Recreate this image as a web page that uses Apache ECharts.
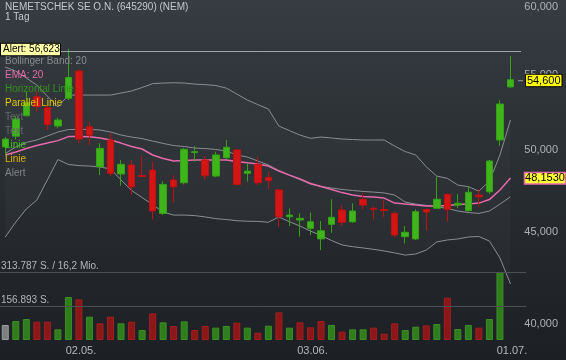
<!DOCTYPE html>
<html><head><meta charset="utf-8">
<script src="https://cdn.jsdelivr.net/npm/echarts@6/dist/echarts.min.js"></script>
<style>html,body{margin:0;padding:0;background:#2a2e33}#c{width:566px;height:360px}</style>
</head><body><div id="c"></div>
<script>
// ---- data ----
const dates = ['22.04.','23.04.','24.04.','25.04.','26.04.','29.04.','30.04.','02.05.','03.05.','06.05.','07.05.','08.05.','09.05.','10.05.','13.05.','14.05.','15.05.','16.05.','17.05.','20.05.','21.05.','22.05.','23.05.','24.05.','27.05.','28.05.','29.05.','30.05.','31.05.','03.06.','04.06.','05.06.','06.06.','07.06.','10.06.','11.06.','12.06.','13.06.','14.06.','17.06.','18.06.','19.06.','20.06.','21.06.','24.06.','25.06.','26.06.','27.06.','28.06.','01.07.'];
const openP  = [50100,50800,52140,53420,52680,51460,53320,55210,51410,48850,50550,48400,48960,48300,48640,46020,48030,47860,49740,49270,48270,49420,49910,48440,49000,48190,47420,45820,45630,45150,44540,45380,46220,45530,46860,46320,46250,46020,44670,44540,46250,46320,47150,46510,46180,47110,47310,50550,54100];
const closeP = [50610,51940,53020,52750,51570,51860,54760,50610,50860,50010,48440,49000,47610,48240,46160,47760,47610,49950,49800,48290,49590,50080,47760,48580,47860,47990,45820,45920,45730,45530,45010,45790,45500,46160,46510,46260,46190,44760,44920,46120,46100,46860,46260,46620,47280,47010,49210,52930,54600];
const lowP   = [49590,50590,52100,52410,51200,51310,53200,50340,50220,48330,48260,47680,47110,48210,45670,45930,46650,47760,49160,48030,48190,49310,47680,47930,47720,47480,45240,45280,44670,44760,43910,44890,45300,45470,46260,45670,45820,44630,44290,44480,45010,46280,45530,46320,46120,46420,47170,50180,54040];
const highP  = [50740,52120,53770,53770,52860,52010,56800,55330,51740,50340,50980,49270,49270,49520,49160,47960,48330,50030,50160,49520,49800,50550,49970,49060,49480,48540,47480,46320,46020,46070,45570,46860,46510,46620,47220,46420,46810,46120,45280,46260,46320,48230,47220,47170,47660,47460,49270,53200,56280];
const volume = [69200,87700,96900,84600,84600,49200,198400,187600,107700,77000,107700,77000,84600,46000,123000,81500,64600,86000,46000,64600,56900,64600,80000,56900,33800,66000,127600,56900,81500,58500,87700,69200,38400,49200,49200,56900,29000,77000,46000,61500,67700,73800,195000,50800,69200,56900,96900,313787,0];
const bbUpper  = [55490,55210,54720,54230,53470,52730,53540,53540,53540,53540,53540,53680,53820,54060,54330,54370,54390,54370,54300,54260,54200,54020,53610,53200,52890,52590,51460,51160,50870,50660,50740,50680,50610,50580,50550,50550,50550,50160,49810,49590,48850,48270,48130,47720,47620,47350,47960,49590,51860];
const bbMiddle = [49690,50100,50390,50550,50810,51070,51230,51240,51240,51200,51070,50870,50740,50640,50480,50330,50190,50130,50030,50000,49940,49840,49590,49460,49210,48960,48610,48330,48060,47780,47630,47540,47450,47390,47330,47290,47240,47110,46690,46570,46490,46410,46310,46160,46070,46020,46160,46570,47010];
const bbLower  = [44650,45510,46280,46810,48030,49300,48990,48920,48890,48830,48710,48030,47390,46960,46540,46100,45920,45920,45890,45810,45710,45660,45590,45560,45550,45500,45810,45530,45280,44990,44740,44450,44200,44100,44030,43950,43860,43750,43630,43690,43910,44370,44480,44540,44650,44680,44420,43470,42050];
const ema20    = [49590,49780,50000,50200,50350,50510,50770,50770,50760,50680,50550,50350,50130,49970,49590,49370,49210,49240,49270,49270,49270,49270,49180,49100,49020,48890,48580,48330,48090,47810,47630,47450,47260,47110,47020,46990,46930,46630,46570,46510,46460,46460,46490,46540,46570,46630,46840,47420,48153];
const priceTicks = [60000,55000,50000,45000,40000];
const priceTickLabels = ['60,000','55,000','50,000','45,000','40,000'];
const alertValue = 56623, alertText = 'Alert: 56,623';
const lastPriceText = '54,600', emaText = '48,1530';
const volTicks = [313787,156893];
const volTickLabels = ['313.787 S. / 16,2 Mio.','156.893 S.'];
const titleText = 'NEMETSCHEK SE O.N. (645290) (NEM)', periodText = '1 Tag';
const legendTexts  = ['Bollinger Band: 20','EMA: 20','Horizontal Linie','Parallel Linie','Text','Text','Linie','Linie','Alert'];
const legendColors = ['#878b8f','#e46aa8','#32921a','#e3c300','#63676b','#63676b','#3ec41e','#dcb400','#7f8387'];

// ---- styles ----
const FONT = "'Liberation Sans', Arial, sans-serif";
const GREEN = '#3fb51b', GREEN_B = '#33a315', RED = '#d41515', RED_B = '#c01111';

const candleData = openP.map((o,i)=>[o, closeP[i], lowP[i], highP[i]]);
const volData = volume.map((v,i)=>{
  let c, b;
  if (i === 0) { c = '#7d7f81'; b = '#9a9c9e'; }
  else if (closeP[i] >= closeP[i-1]) { c = '#2f7d1d'; b = '#3b8f26'; }
  else { c = '#8c1719'; b = '#a31f1f'; }
  return {value: v, itemStyle: {color: c, borderColor: b, borderWidth: v > 0 ? 1 : 0, opacity: v > 0 ? 1 : 0}};
});
const bandWidth = bbUpper.map((u,i)=>u - bbLower[i]);

const isMonthStart = (idx) => idx > 0 && dates[idx].slice(3) !== dates[idx-1].slice(3);

const chart = echarts.init(document.getElementById('c'), null, {renderer:'canvas'});
const gridW = 526.25;
const option = {
  animation: false,
  backgroundColor: {type:'linear', x:0, y:0, x2:0, y2:1, colorStops:[{offset:0,color:'#363c41'},{offset:1,color:'#1c1f23'}]},
  grid: [
    {left: 0, top: 6, width: gridW, height: 317},
    {left: 0, top: 272, width: gridW, height: 68}
  ],
  xAxis: [
    {type:'category', gridIndex:0, data: dates, boundaryGap:true, show:false},
    {type:'category', gridIndex:1, data: dates, boundaryGap:true,
     axisLine:{show:false}, axisTick:{show:false}, splitLine:{show:false},
     axisLabel:{show:true, margin:5, interval:(idx)=>isMonthStart(idx),
       formatter:(v, idx)=> idx === dates.length-1 ? '{r|'+v+'}' : '{l|'+v+'}',
       color:'#b6b8ba', fontSize:11, fontFamily:FONT,
       rich:{ l:{color:'#b6b8ba', fontSize:11, fontFamily:FONT, padding:[0,0,0,4]},
              r:{color:'#b6b8ba', fontSize:11, fontFamily:FONT, padding:[0,18,0,0]} } } }
  ],
  yAxis: [
    {type:'log', logBase:10, gridIndex:0, min:40000, max:60000, show:false, splitLine:{show:false}},
    {type:'value', gridIndex:1, min:0, max:volTicks[0], show:false, splitLine:{show:false}}
  ],
  series: [
    {type:'line', name:'bbBase', data: bbLower, stack:'bb', symbol:'none', silent:true,
     lineStyle:{opacity:0}, z:1},
    {type:'line', name:'bbFill', data: bandWidth, stack:'bb', symbol:'none', silent:true,
     lineStyle:{opacity:0}, areaStyle:{color:'rgba(255,255,255,0.035)'}, z:1},
    {type:'line', name:'bbUpper', data: bbUpper, symbol:'none', silent:true, lineStyle:{color:'#8a8e92', width:1}, z:2},
    {type:'line', name:'bbMiddle', data: bbMiddle, symbol:'none', silent:true, lineStyle:{color:'#8a8e92', width:1}, z:2},
    {type:'line', name:'bbLower', data: bbLower, symbol:'none', silent:true, lineStyle:{color:'#8a8e92', width:1}, z:2},
    {type:'line', name:'ema', data: ema20, symbol:'none', silent:true, lineStyle:{color:'#e56aaa', width:1.5}, z:3},
    {type:'candlestick', name:'price', data: candleData, barWidth:7, z:4,
     itemStyle:{color:GREEN, color0:RED, borderColor:GREEN_B, borderColor0:RED_B, borderWidth:1},
     markLine:{silent:true, symbol:['none','none'], label:{show:false},
       lineStyle:{color:'#a0a3a6', width:1, type:'solid'},
       data:[[{coord:[0, alertValue]}, {coord:[dates.length-1, alertValue]}]]}},
    {type:'bar', name:'volume', xAxisIndex:1, yAxisIndex:1, data: volData, barWidth:7,
     markLine:{silent:true, symbol:['none','none'], label:{show:false},
       lineStyle:{color:'#4c5055', width:1, type:'solid'},
       data: volTicks.map(v=>({yAxis:v}))}}
  ]
};
chart.setOption(option);

// ---- labels placed via the axes ----
const g = [];
g.push({type:'text', x:5, y:7, z:100, style:{text:titleText, fill:'#c4c7ca', font:'10px '+FONT, align:'left', verticalAlign:'middle'}});
g.push({type:'text', x:5, y:17, z:100, style:{text:periodText, fill:'#c4c7ca', font:'10px '+FONT, align:'left', verticalAlign:'middle'}});
legendTexts.forEach((t,k)=>{
  g.push({type:'text', x:5, y:61 + 14*k, z:100, style:{text:t, fill:legendColors[k], font:'10px '+FONT, align:'left', verticalAlign:'middle'}});
});
priceTicks.forEach((v,k)=>{
  const y = chart.convertToPixel({yAxisIndex:0}, v);
  g.push({type:'text', x:558, y:y+1, z:50, style:{text:priceTickLabels[k], fill:'#aeb1b4', font:'11px '+FONT, align:'right', verticalAlign:'middle'}});
});
volTicks.forEach((v,k)=>{
  const y = chart.convertToPixel({yAxisIndex:1}, v);
  g.push({type:'text', x:1, y:y-6, z:50, style:{text:volTickLabels[k], fill:'#b4b6b8', font:'10px '+FONT, align:'left', verticalAlign:'middle'}});
});
// alert box
const ay = chart.convertToPixel({yAxisIndex:0}, alertValue);
g.push({type:'rect', z:110, shape:{x:0.5, y:ay-8, width:60, height:12.5}, style:{fill:'#ffffa8', stroke:'#000', lineWidth:1}});
g.push({type:'text', z:111, x:3, y:ay-1.7, style:{text:alertText, fill:'#000', font:'10px '+FONT, align:'left', verticalAlign:'middle'}});
// last price box
const lastClose = closeP[closeP.length-1];
const ly = chart.convertToPixel({yAxisIndex:0}, lastClose);
g.push({type:'line', z:110, shape:{x1:518, y1:ly+1, x2:523, y2:ly+1}, style:{stroke:'#9a9c9e', lineWidth:1}});
g.push({type:'rect', z:110, shape:{x:525.5, y:ly-5.5, width:36.5, height:12.5}, style:{fill:'#ffff00', stroke:'#000', lineWidth:1}});
g.push({type:'text', z:111, x:543.7, y:ly+0.8, style:{text:lastPriceText, fill:'#000', font:'11px '+FONT, align:'center', verticalAlign:'middle'}});
// EMA box
const ey = chart.convertToPixel({yAxisIndex:0}, ema20[ema20.length-1]);
g.push({type:'rect', z:110, shape:{x:524.5, y:ey-5.5, width:41, height:11.5}, style:{fill:'#ffff33', stroke:'#e868b0', lineWidth:1.5}});
g.push({type:'text', z:111, x:545, y:ey+0.3, style:{text:emaText, fill:'#000', font:'11px '+FONT, align:'center', verticalAlign:'middle'}});
chart.setOption({graphic: g});
</script>
</body></html>
